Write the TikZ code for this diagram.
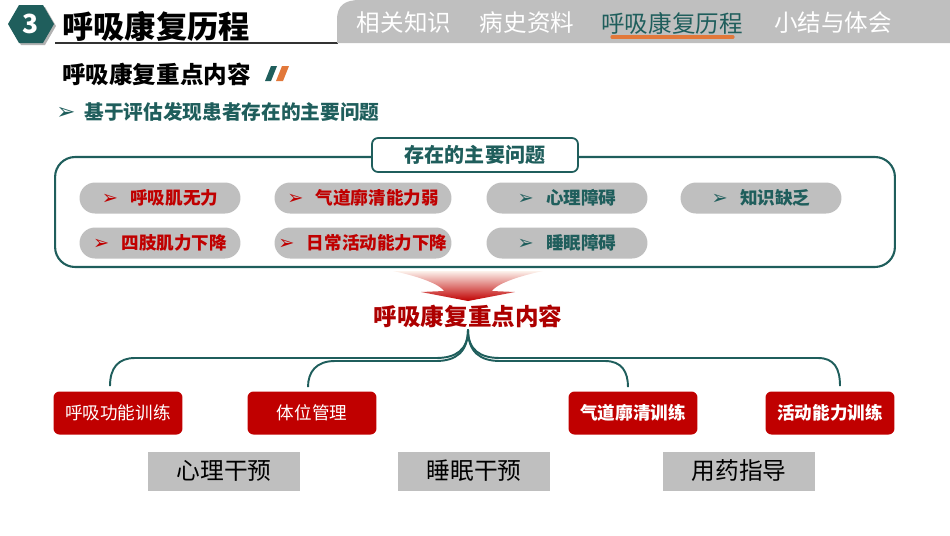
\documentclass[tikz,border=0pt]{standalone}
\usepackage{fontspec}
\setmainfont{Noto Sans CJK SC}
\newfontfamily\symfont{DejaVu Sans}
\usetikzlibrary{calc}
\definecolor{deepteal}{RGB}{31,94,92}
\definecolor{slidered}{RGB}{192,0,0}
\definecolor{tabgray}{RGB}{191,191,191}
\definecolor{taborange}{RGB}{226,120,58}
\newcommand{\fs}[1]{\fontsize{#1}{#1}\selectfont}
\newcommand{\tri}{{\symfont\fs{11}\char"27A2}\hspace{0.7em}}

\begin{document}
\begin{tikzpicture}[x=0.02cm, y=-0.02cm,
  problem/.style={rectangle, rounded corners=0.31cm, fill=tabgray, minimum width=3.22cm, minimum height=0.62cm, font=\bfseries\fs{10}, inner sep=0pt},
  redissue/.style={problem, text=slidered},
  tealissue/.style={problem, text=deepteal},
  training/.style={rectangle, rounded corners=0.12cm, fill=slidered, text=white, minimum width=2.58cm, minimum height=0.86cm, font=\fs{10}, inner sep=0pt},
  support/.style={rectangle, fill=tabgray, minimum width=3.04cm, minimum height=0.78cm, font=\fs{13.5}, inner sep=0pt},
  tab/.style={text=white, font=\fs{13.4}, inner sep=0pt},
  brace/.style={draw=deepteal, line width=1.1pt}
]
\useasboundingbox (0,0) rectangle (950,535);

\fill[gray!60] (10,26) -- (21,7) -- (45,7) -- (56,26) -- (45,45) -- (21,45) -- cycle;
\fill[deepteal] (8,24) -- (19,5) -- (43,5) -- (54,24) -- (43,43) -- (19,43) -- cycle;
\node[text=white, font=\bfseries\fs{15}, inner sep=0pt] (num) at (31,24) {3};
\node[anchor=west, font=\bfseries\fs{17.8}, inner sep=0pt] (title) at (62,26) {呼吸康复历程};
\draw[black!80, line width=0.6pt] (55,43) -- (338,43);

\fill[tabgray] (337,43) -- (337,20) .. controls (337,5) and (345,0) .. (360,0) -- (950,0) -- (950,43) -- cycle;
\node[tab] (tab1) at (404,23) {相关知识};
\node[tab] (tab2) at (527,23) {病史资料};
\node[tab, text=deepteal] (tab3) at (672,23) {呼吸康复历程};
\node[tab] (tab4) at (833,23) {小结与体会};
\draw[taborange, line width=1.8pt, line cap=round] (612,37) -- (733,37);

\node[anchor=west, font=\bfseries\fs{13.4}, inner sep=0pt] (topic) at (62,74) {呼吸康复重点内容};
\fill[deepteal] (265,81) -- (271,66) -- (277,66) -- (271,81) -- cycle;
\fill[taborange] (276,81) -- (282,66) -- (289,66) -- (283,81) -- cycle;
\node[anchor=west, text=deepteal, font=\bfseries\fs{11.2}, inner sep=0pt] (basis) at (56,112) {{\symfont\fs{13}\char"27A2}\hspace{0.45em}基于评估发现患者存在的主要问题};

\node[draw=deepteal, line width=1.2pt, rounded corners=0.4cm, minimum width=16.8cm, minimum height=2.2cm] (panel) at (475,212) {};
\node[draw=deepteal, fill=white, line width=1pt, rounded corners=0.12cm, minimum width=4.12cm, minimum height=0.68cm, text=deepteal, font=\bfseries\fs{11.4}, inner sep=0pt] (issues) at (475,155) {存在的主要问题};

\node[redissue] (p1) at (160,198) {\tri 呼吸肌无力};
\node[redissue, minimum width=3.54cm] (p2) at (363,198) {\tri 气道廓清能力弱};
\node[tealissue] (p3) at (567,198) {\tri 心理障碍};
\node[tealissue] (p4) at (761,198) {\tri 知识缺乏};
\node[redissue] (p5) at (160,243) {\tri 四肢肌力下降};
\node[redissue, minimum width=3.54cm] (p6) at (363,243) {\tri 日常活动能力下降};
\node[tealissue] (p7) at (567,243) {\tri 睡眠障碍};

\shade[top color=taborange!10!white, middle color=taborange!85, bottom color=slidered]
  (393,271) -- (543,271) .. controls (510,278) and (495,286) .. (492,291) -- (515,292) -- (468,301)
  -- (421,292) -- (444,291) .. controls (441,286) and (426,278) .. (393,271) -- cycle;
\node[text=slidered!90!black, font=\bfseries\fs{13.4}, inner sep=1pt] (focus) at (468,316) {呼吸康复重点内容};

\node[training] (resp) at (118,413) {呼吸功能训练};
\node[training] (pos) at (312,413) {体位管理};
\node[training, font=\bfseries\fs{10}] (clear) at (633,413) {气道廓清训练};
\node[training, font=\bfseries\fs{10}] (act) at (830,413) {活动能力训练};

\draw[brace] (focus.south) .. controls (468,350) and (456,358) .. (436,358) -- (135,358)
  .. controls (118,358) and (110,368) .. ($(resp.north)+(-8,-5)$);
\draw[brace] (focus.south) .. controls (468,352) and (456,361) .. (436,361) -- (335,361)
  .. controls (316,361) and (308,372) .. ($(pos.north)+(-4,-4)$);
\draw[brace] (focus.south) .. controls (468,350) and (480,358) .. (500,358) -- (818,358)
  .. controls (834,358) and (840,368) .. ($(act.north)+(10,-5)$);
\draw[brace] (focus.south) .. controls (468,352) and (480,361) .. (500,361) -- (605,361)
  .. controls (622,361) and (628,372) .. ($(clear.north)+(-5,-4)$);

\node[support] (psy) at (224,471) {心理干预};
\node[support] (sleep) at (474,471) {睡眠干预};
\node[support] (drug) at (739,471) {用药指导};
\end{tikzpicture}
\end{document}
